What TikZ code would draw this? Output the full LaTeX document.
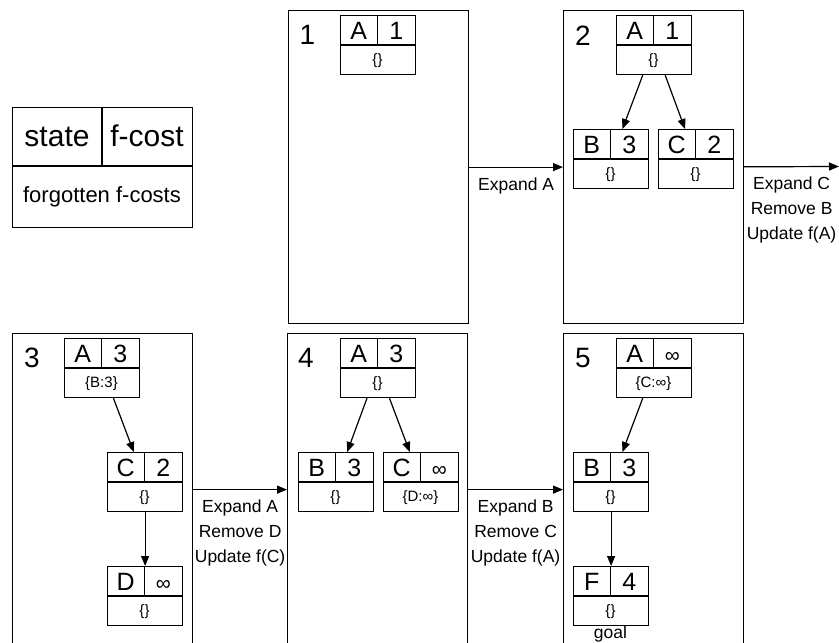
\documentclass[tikz,border=0pt]{standalone}
\usepackage{fontspec}
\setmainfont{Liberation Sans}
\usetikzlibrary{arrows.meta}
\tikzset{
  panel/.style={draw, line width=1.2pt, minimum width=180pt, minimum height=313pt, inner sep=0pt, anchor=north west},
  recbox/.style={draw, line width=1.2pt, minimum width=75pt, minimum height=59pt, inner sep=0pt, anchor=north west},
  divline/.style={line width=1.2pt},
  numtxt/.style={font=\fontsize{28}{28}\selectfont, inner sep=0pt},
  celltxt/.style={font=\fontsize{25}{25}\selectfont, inner sep=0pt, anchor=base},
  smalltxt/.style={font=\fontsize{15}{15}\selectfont, inner sep=0pt},
  lab/.style={font=\fontsize{17.5}{25}\selectfont, align=center, inner sep=0pt},
  arr/.style={-{Triangle[length=10pt,width=8pt]}, line width=1.2pt},
}
\newcommand\infsym{{\fontsize{21}{21}\selectfont ∞}}
% #1 name, #2 left x, #3 top y, #4 state, #5 cost, #6 forgotten
\newcommand\recnode[6]{%
  \node[recbox] (#1) at (#2,#3) {};
  \draw[divline] (#2,#3+30) -- (#2+75,#3+30) (#2+37.5,#3) -- (#2+37.5,#3+30);
  \node[celltxt] (#1-s) at (#2+18.75,#3+24.5) {#4};
  \node[celltxt] (#1-f) at (#2+56.25,#3+24.5) {#5};
  \node[smalltxt] (#1-m) at (#2+37.5,#3+46) {#6};
}
\begin{document}
\begin{tikzpicture}[x=1pt,y=-1pt]
\useasboundingbox (0,0) rectangle (839,643);
\clip (0,0) rectangle (839,643);

% legend
\node[draw, line width=1.2pt, minimum width=180pt, minimum height=120pt, inner sep=0pt, anchor=north west] (legend) at (12,107) {};
\draw[divline] (12,166) -- (192,166) (102,107) -- (102,166);
\node[font=\fontsize{30}{30}\selectfont, inner sep=0pt, anchor=base] (lg-s) at (57,146) {state};
\node[font=\fontsize{30}{30}\selectfont, inner sep=0pt, anchor=base] (lg-f) at (147,146) {f-cost};
\node[font=\fontsize{22}{22}\selectfont, inner sep=0pt, anchor=base] (lg-m) at (102,202) {forgotten f-costs};

% panels
\node[panel] (p1) at (288,10) {};
\node[panel] (p2) at (563,10) {};
\node[panel, minimum height=312pt] (p3) at (12,333) {};
\node[panel, minimum height=312pt] (p4) at (287,333) {};
\node[panel, minimum height=312pt] (p5) at (563,333) {};

\node[numtxt] (n1) at (307.5,35) {1};
\node[numtxt] (n2) at (583,36) {2};
\node[numtxt] (n3) at (32,358) {3};
\node[numtxt] (n4) at (306,358) {4};
\node[numtxt] (n5) at (583,358) {5};

% panel 1
\recnode{p1a}{340}{15}{A}{1}{\{\}}

% panel 2
\recnode{p2a}{616}{15}{A}{1}{\{\}}
\recnode{p2b}{573}{129}{B}{3}{\{\}}
\recnode{p2c}{658}{129}{C}{2}{\{\}}
\draw[arr] (p2a) -- (p2b);
\draw[arr] (p2a) -- (p2c);

% panel 3
\recnode{p3a}{64}{338}{A}{3}{\{B:3\}}
\recnode{p3c}{107}{452}{C}{2}{\{\}}
\recnode{p3d}{107}{566}{D}{\infsym}{\{\}}
\draw[arr] (p3a) -- (p3c);
\draw[arr] (p3c) -- (p3d);

% panel 4
\recnode{p4a}{340}{338}{A}{3}{\{\}}
\recnode{p4b}{298}{452}{B}{3}{\{\}}
\recnode{p4c}{383}{452}{C}{\infsym}{\{D:∞\}}
\draw[arr] (p4a) -- (p4b);
\draw[arr] (p4a) -- (p4c);

% panel 5
\recnode{p5a}{616}{338}{A}{\infsym}{\{C:∞\}}
\recnode{p5b}{573}{452}{B}{3}{\{\}}
\recnode{p5f}{573}{566}{F}{4}{\{\}}
\draw[arr] (p5a) -- (p5b);
\draw[arr] (p5b) -- (p5f);
\node[font=\fontsize{17.5}{17.5}\selectfont, inner sep=0pt, anchor=base] (goal) at (610.5,638) {goal};

% transitions
\coordinate (out2) at (839,166.5);
\draw[arr] (p1) -- (p2) node[midway, lab, below=10pt] (t1) {Expand A};
\draw[arr] (p2) -- (out2) node[midway, lab, below=10pt] (t2) {Expand C\\Remove B\\Update f(A)};
\draw[arr] (p3) -- (p4) node[midway, lab, below=10pt] (t3) {Expand A\\Remove D\\Update f(C)};
\draw[arr] (p4) -- (p5) node[midway, lab, below=10pt] (t4) {Expand B\\Remove C\\Update f(A)};
\end{tikzpicture}
\end{document}
